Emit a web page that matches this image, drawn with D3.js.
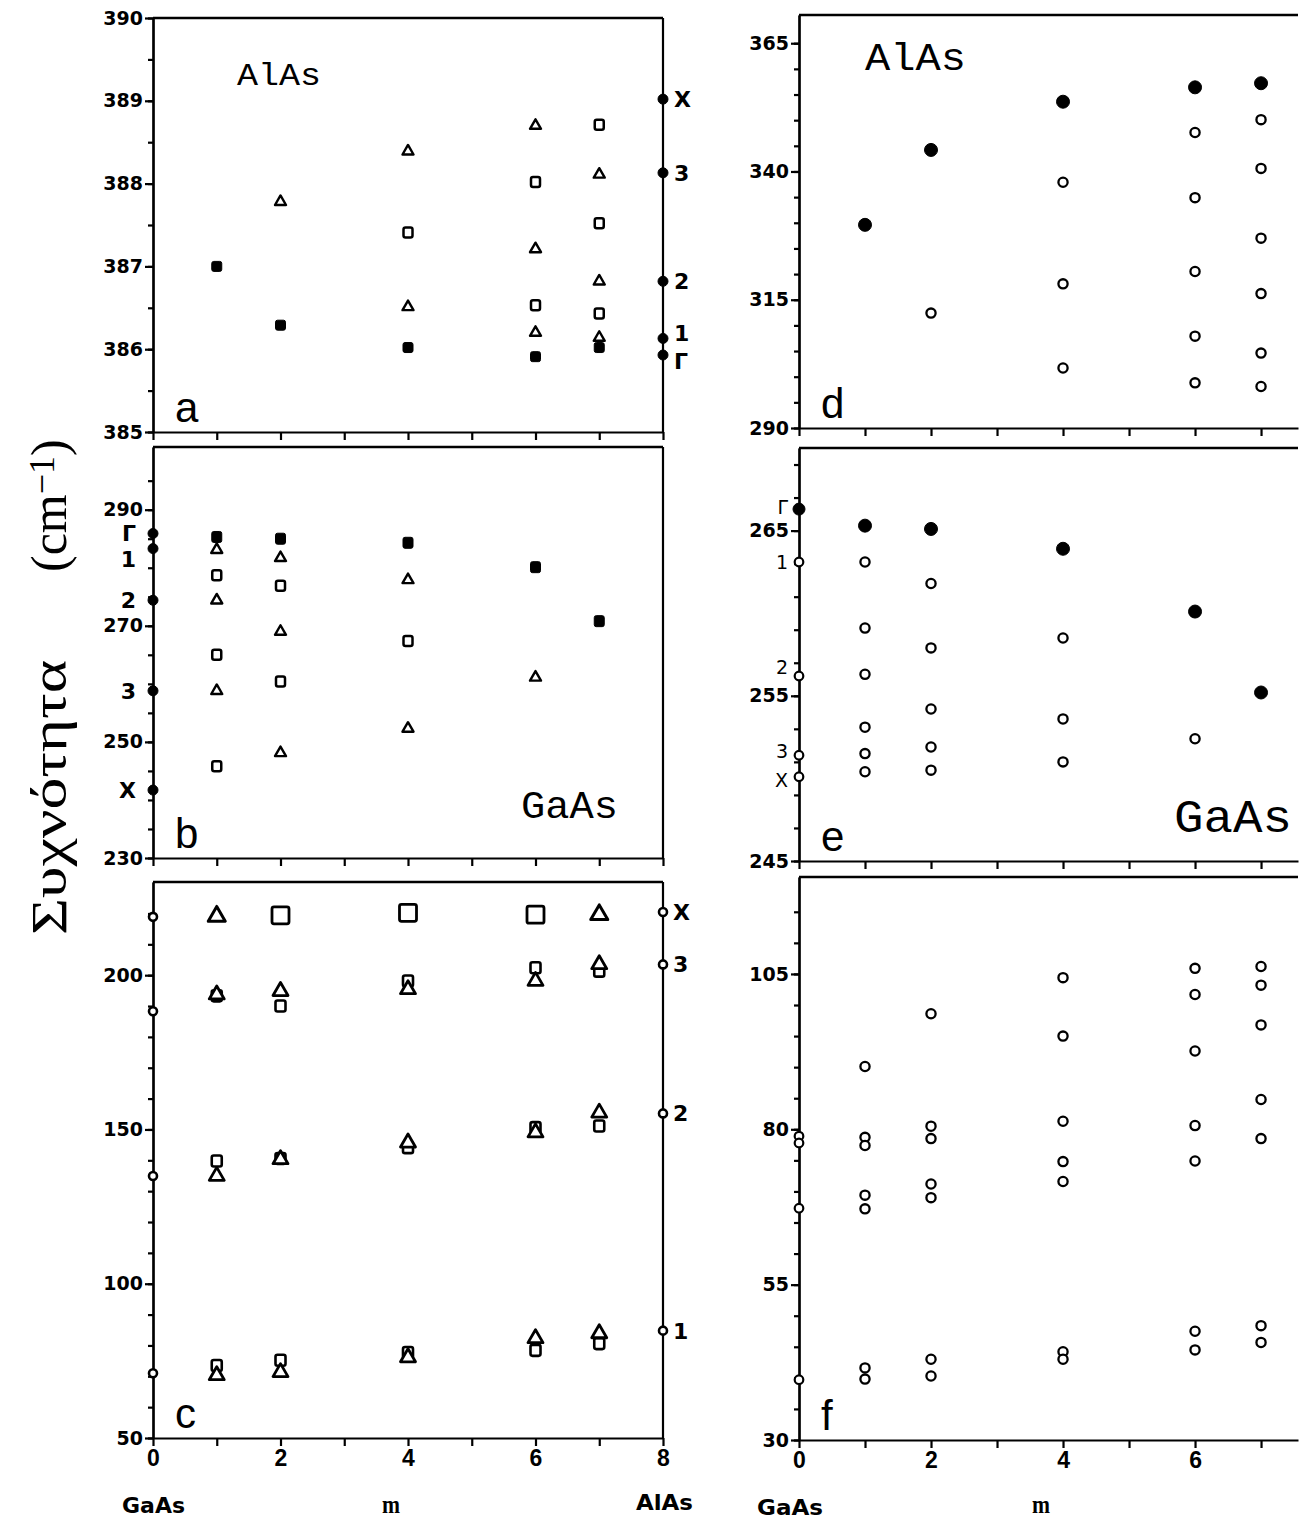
<!DOCTYPE html>
<html>
<head>
<meta charset="utf-8">
<script src="https://cdn.jsdelivr.net/npm/d3@7"></script>
<style>
  body { margin: 0; background: #fff; }
  .axis path, .axis line { stroke: #000; stroke-width: 2.2; }
  .axis text { font-family: "DejaVu Sans", sans-serif; font-weight: bold; font-size: 19px; fill: #000; }
  .xlab text { font-family: "Liberation Sans", sans-serif; font-size: 23px; }
</style>
</head>
<body>
<script>
// ---- panel a : AlAs-like modes, upper range ----
var aTriangles = [[2,387.78],[4,388.39],[4,386.51],[6,388.70],[6,387.21],[6,386.20],[7,388.11],[7,386.82],[7,386.14]];
var aOpenSquares = [[4,387.41],[6,388.02],[6,386.53],[7,388.71],[7,387.52],[7,386.43]];
var aFilledSquares = [[1,387.0],[2,386.29],[4,386.02],[6,385.91],[7,386.02]];
var aBulkValues = [389.02, 388.13, 386.82, 386.13, 385.93];
var aBulkLabels = ["X", "3", "2", "1", "Γ"];
var aYLabels = [385, 386, 387, 388, 389, 390];

// ---- panel b : GaAs-like modes ----
var bTriangles = [[1,283.1],[1,274.4],[1,258.8],[2,281.7],[2,269.0],[2,248.1],[4,277.9],[4,252.3],[6,261.1]];
var bOpenSquares = [[1,278.7],[1,265.0],[1,245.8],[2,276.9],[2,260.4],[4,267.4]];
var bFilledSquares = [[1,285.3],[2,285.0],[4,284.3],[6,280.1],[7,270.8]];
var bBulkValues = [285.9, 283.3, 274.4, 258.8, 241.7];
var bBulkLabels = ["Γ", "1", "2", "3", "X"];
var bYLabels = [230, 250, 270, 290];

// ---- panel c : acoustic modes ----
var cBigTriangles = [[1,219.1],[7,219.6]];
var cBigSquares = [[2,219.4],[4,220.2],[6,219.6]];
var cTriangles = [[1,193.7],[1,134.9],[1,70.3],[2,194.8],[2,140.3],[2,71.3],[4,195.4],[4,145.7],[4,76.1],
                  [6,198.1],[6,149.0],[6,82.3],[7,203.5],[7,155.4],[7,83.9]];
var cOpenSquares = [[1,193.3],[1,139.8],[1,73.5],[2,190.0],[2,140.6],[2,75.2],[4,198.1],[4,144.1],[4,77.7],
                    [6,202.4],[6,150.6],[6,78.4],[7,201.3],[7,151.1],[7,80.6]];
var cBulkGaAs = [218.9, 188.3, 134.9, 71.0];
var cBulkAlAs = [220.5, 203.5, 155.2, 84.8];
var cBulkLabels = ["X", "3", "2", "1"];
var cYLabels = [50, 100, 150, 200];

// ---- panel d ----
var dFilled = [[1,329.6],[2,344.2],[4,353.6],[6,356.4],[7,357.2]];
var dOpen = [[2,312.4],[4,337.9],[4,318.1],[4,301.7],[6,347.6],[6,334.9],[6,320.5],[6,307.9],[6,298.8],
             [7,350.1],[7,340.6],[7,327.0],[7,316.2],[7,304.6],[7,298.1]];
var dYLabels = [290, 315, 340, 365];

// ---- panel e ----
var eFilled = [[1,265.3],[2,265.1],[4,263.9],[6,260.1],[7,255.2]];
var eOpen = [[1,263.1],[1,259.1],[1,256.3],[1,253.1],[1,251.5],[1,250.4],[2,261.8],[2,257.9],[2,254.2],[2,251.9],[2,250.5],
             [4,258.5],[4,253.6],[4,251.0],[6,252.4]];
var eBulkValues = [266.3, 263.1, 256.2, 251.4, 250.1];
var eBulkLabels = ["Γ", "1", "2", "3", "X"];
var eYLabels = [245, 255, 265];

// ---- panel f ----
var fOpen = [[1,90.1],[1,78.7],[1,77.4],[1,69.4],[1,67.2],[1,41.6],[1,39.8],
             [2,98.6],[2,80.5],[2,78.5],[2,71.2],[2,69.0],[2,43.0],[2,40.3],
             [4,104.4],[4,95.0],[4,81.3],[4,74.8],[4,71.6],[4,44.2],[4,43.0],
             [6,105.9],[6,101.7],[6,92.6],[6,80.6],[6,74.9],[6,47.5],[6,44.5],
             [7,106.2],[7,103.2],[7,96.8],[7,84.8],[7,78.5],[7,48.4],[7,45.7]];
var fBulkValues = [78.9, 77.8, 67.3, 39.7];
var fYLabels = [30, 55, 80, 105];

var leftXLabels = [0, 2, 4, 6, 8];
var rightXLabels = [0, 2, 4, 6];

function init(){

var svg = d3.select("body").append("svg")
    .attr("width", 1302)
    .attr("height", 1522);

var xLeft = d3.scaleLinear().domain([0, 8]).range([153, 663]);
var xRight = d3.scaleLinear().domain([0, 7.56]).range([799, 1298]);

function steps(lo, hi, step) {
  var n = Math.floor((hi - lo) / step + 1e-6);
  return d3.range(0, n + 1).map(function(i) { return +(lo + i * step).toFixed(3); });
}

// draws frame + axes of one panel, returns y scale
function panel(o) {
  var y = d3.scaleLinear().domain(o.yDomain).range([o.bottom, o.top]);
  var x = o.x;
  var x0 = x.range()[0], x1 = x.range()[1];

  // minor ticks
  svg.append("g")
      .attr("class", "axis")
      .attr("transform", "translate(" + x0 + ",0)")
      .call(d3.axisLeft(y).tickValues(o.minor).tickSize(5).tickSizeOuter(0).tickFormat(""));
  // labelled ticks
  svg.append("g")
      .attr("class", "axis")
      .attr("transform", "translate(" + x0 + ",0)")
      .call(d3.axisLeft(y).tickValues(o.major).tickSize(8).tickPadding(2).tickSizeOuter(0).tickFormat(d3.format("d")));

  var xa = svg.append("g")
      .attr("class", "axis" + (o.xLabels ? " xlab" : ""))
      .attr("transform", "translate(0," + o.bottom + ")")
      .call(d3.axisBottom(x).tickValues(o.xTicks).tickSize(8).tickSizeOuter(0).tickPadding(4)
        .tickFormat(function(d) { return o.xLabels && o.xLabels.indexOf(d) >= 0 ? d : ""; }));
  xa.select(".domain").attr("stroke-width", 2.6);

  // top line (and right line for left column)
  svg.append("line")
      .attr("x1", x0).attr("x2", x1).attr("y1", o.top).attr("y2", o.top)
      .attr("stroke", "#000").attr("stroke-width", 2.6);
  if (o.rightLine) {
    svg.append("line")
        .attr("x1", x1).attr("x2", x1).attr("y1", o.top).attr("y2", o.bottom)
        .attr("stroke", "#000").attr("stroke-width", 2.2);
  }

  svg.append("text")
      .attr("x", x0 + 22).attr("y", o.bottom - 10)
      .style("font-family", "Liberation Sans, sans-serif")
      .style("font-size", "42px")
      .text(o.letter);
  return y;
}

function triangles(data, x, y, w, sw) {
  svg.append("g").selectAll("path").data(data).enter().append("path")
      .attr("d", d3.symbol().type(d3.symbolTriangle).size(Math.sqrt(3) / 4 * w * w))
      .attr("transform", function(d) { return "translate(" + x(d[0]) + "," + y(d[1]) + ")"; })
      .attr("fill", "#fff").attr("stroke", "#000").attr("stroke-width", sw)
      .attr("stroke-linejoin", "round");
}

function squares(data, x, y, w, h, filled, sw) {
  svg.append("g").selectAll("rect").data(data).enter().append("rect")
      .attr("x", function(d) { return x(d[0]) - w / 2; })
      .attr("y", function(d) { return y(d[1]) - h / 2; })
      .attr("width", w).attr("height", h).attr("rx", 2)
      .attr("fill", filled ? "#000" : "#fff")
      .attr("stroke", "#000").attr("stroke-width", sw);
}

function circles(data, x, y, r, filled, sw) {
  svg.append("g").selectAll("circle").data(data).enter().append("circle")
      .attr("cx", function(d) { return x(d[0]); })
      .attr("cy", function(d) { return y(d[1]); })
      .attr("r", r)
      .attr("fill", filled ? "#000" : "#fff")
      .attr("stroke", "#000").attr("stroke-width", sw);
}

function bulkLabels(values, labels, xpos, y, anchor, shift, weight, size) {
  svg.append("g").selectAll("text").data(values).enter().append("text")
      .attr("x", xpos)
      .attr("y", function(d, i) { return y(d) + (shift[labels[i]] || 0); })
      .attr("dy", "0.36em")
      .attr("text-anchor", anchor)
      .style("font-family", "DejaVu Sans, sans-serif")
      .style("font-weight", weight)
      .style("font-size", size + "px")
      .text(function(d, i) { return labels[i]; });
}

function word(txt, x, y, len, size, family, weight) {
  svg.append("text")
      .attr("x", x).attr("y", y)
      .attr("textLength", len).attr("lengthAdjust", "spacingAndGlyphs")
      .style("font-family", family)
      .style("font-weight", weight || "normal")
      .style("font-size", size + "px")
      .text(txt);
}

var leftTicks = d3.range(0, 9), rightTicks = d3.range(0, 8);

// ---------- panel a ----------
var ya = panel({x: xLeft, top: 18, bottom: 432, yDomain: [385, 390],
  minor: steps(385, 390, 0.5), major: aYLabels, xTicks: leftTicks, rightLine: true, letter: "a"});
triangles(aTriangles, xLeft, ya, 11, 2.4);
squares(aOpenSquares, xLeft, ya, 9, 10, false, 2.5);
squares(aFilledSquares, xLeft, ya, 10, 10, true, 1);
circles(aBulkValues.map(function(v) { return [8, v]; }), xLeft, ya, 5, true, 1);
bulkLabels(aBulkValues, aBulkLabels, 674, ya, "start", {"1": -5, "Γ": 6}, "bold", 22);
word("AlAs", 237, 85, 84, 32, "Liberation Mono, monospace");

// ---------- panel b ----------
var yb = panel({x: xLeft, top: 447, bottom: 858, yDomain: [230, 300.8],
  minor: steps(230, 296, 5), major: bYLabels, xTicks: leftTicks, rightLine: true, letter: "b"});
triangles(bTriangles, xLeft, yb, 11, 2.4);
squares(bOpenSquares, xLeft, yb, 9, 10, false, 2.5);
squares(bFilledSquares, xLeft, yb, 10, 11, true, 1);
circles(bBulkValues.map(function(v) { return [0, v]; }), xLeft, yb, 5, true, 1);
bulkLabels(bBulkValues, bBulkLabels, 136, yb, "end", {"1": 10}, "bold", 22);
word("GaAs", 521, 818, 97, 38, "Liberation Mono, monospace");

// ---------- panel c ----------
var yc = panel({x: xLeft, top: 882, bottom: 1438, yDomain: [50, 230.2],
  minor: steps(50, 225, 10), major: cYLabels, xTicks: leftTicks, xLabels: leftXLabels, rightLine: true, letter: "c"});
squares(cOpenSquares, xLeft, yc, 10, 11, false, 2.6);
triangles(cTriangles, xLeft, yc, 15, 2.8);
squares(cBigSquares, xLeft, yc, 17, 17, false, 2.8);
triangles(cBigTriangles, xLeft, yc, 17, 3);
circles(cBulkGaAs.map(function(v) { return [0, v]; }), xLeft, yc, 4, false, 2.6);
circles(cBulkAlAs.map(function(v) { return [8, v]; }), xLeft, yc, 4, false, 2.6);
bulkLabels(cBulkAlAs, cBulkLabels, 673, yc, "start", {}, "bold", 22);

// ---------- panel d ----------
var yd = panel({x: xRight, top: 15, bottom: 428, yDomain: [290, 370.5],
  minor: steps(290, 365, 5), major: dYLabels, xTicks: rightTicks, letter: "d"});
circles(dOpen, xRight, yd, 4.6, false, 2.3);
circles(dFilled, xRight, yd, 6.5, true, 1);
word("AlAs", 865, 70, 101, 38, "Liberation Mono, monospace");

// ---------- panel e ----------
var ye = panel({x: xRight, top: 448, bottom: 861, yDomain: [245, 270],
  minor: steps(245, 269, 2), major: eYLabels, xTicks: rightTicks, letter: "e"});
circles(eOpen, xRight, ye, 4.6, false, 2.3);
circles(eFilled, xRight, ye, 6.5, true, 1);
circles([[0, eBulkValues[0]]], xRight, ye, 6, true, 1);
circles(eBulkValues.slice(1).map(function(v) { return [0, v]; }), xRight, ye, 4.3, false, 2.2);
bulkLabels(eBulkValues, eBulkLabels, 788, ye, "end", {"2": -9, "Γ": -2, "3": -4, "X": 3}, "normal", 19);
word("GaAs", 1174, 832, 118, 46, "Liberation Mono, monospace");

// ---------- panel f ----------
var yf = panel({x: xRight, top: 877, bottom: 1440, yDomain: [30, 120.6],
  minor: steps(30, 115, 5), major: fYLabels, xTicks: rightTicks, xLabels: rightXLabels, letter: "f"});
circles(fOpen, xRight, yf, 4.6, false, 2.3);
circles(fBulkValues.map(function(v) { return [0, v]; }), xRight, yf, 4.3, false, 2.2);

// ---------- axis captions ----------
word("GaAs", 122, 1513, 63, 21, "DejaVu Sans, sans-serif", "bold");
word("m", 382, 1513, 18, 26, "Liberation Serif, serif", "bold");
word("AlAs", 636, 1510, 57, 21, "DejaVu Sans, sans-serif", "bold");
word("GaAs", 757, 1515, 66, 21, "DejaVu Sans, sans-serif", "bold");
word("m", 1032, 1513, 18, 26, "Liberation Serif, serif", "bold");

// y title, rotated
var title = svg.append("g").attr("transform", "translate(66,0) rotate(-90)");
title.append("text")
    .attr("x", -935).attr("y", 0)
    .attr("textLength", 275).attr("lengthAdjust", "spacingAndGlyphs")
    .style("font-family", "Liberation Serif, serif").style("font-size", "50px")
    .text("Συχνότητα");
var unit = title.append("text")
    .attr("x", -572).attr("y", 0)
    .style("font-family", "Liberation Serif, serif").style("font-size", "50px");
unit.append("tspan").text("(cm");
unit.append("tspan").attr("dy", -12).style("font-size", "36px").text("−1");
unit.append("tspan").attr("dy", 12).text(")");

}
init();
</script>
</body>
</html>
